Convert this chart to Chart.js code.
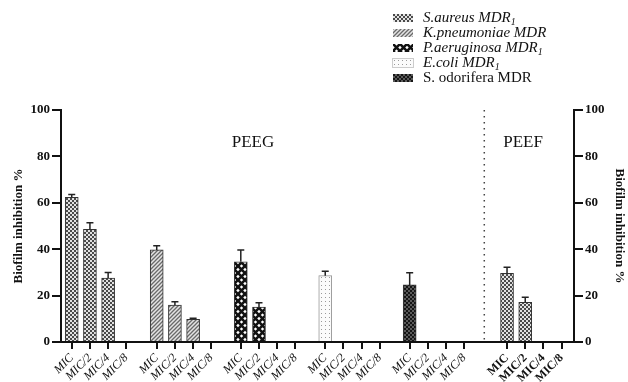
<!DOCTYPE html>
<html>
<head>
<meta charset="utf-8">
<script src="https://cdn.jsdelivr.net/npm/chart.js@4.4.1/dist/chart.umd.min.js"></script>
<style>
  html, body { margin:0; padding:0; background:#fff; }
  #wrap { position:relative; width:628px; height:382px; }
  #legend { position:absolute; left:393px; top:10px; font-family:'Liberation Serif', serif; font-size:15px; color:#111; }
  #legend .row { height:15px; line-height:15px; display:flex; align-items:center; white-space:nowrap; }
  #legend .sw { width:20px; height:8px; margin-right:10px; }
  #legend sub { font-size:10px; vertical-align:-3px; line-height:0; }
</style>
</head>
<body>
<div id="wrap">
  <canvas id="c" width="628" height="382"></canvas>
  <div id="legend"></div>
</div>
<script>
// ---- data ----
const doseLabels = ['MIC', 'MIC/2', 'MIC/4', 'MIC/8'];
const seriesNames = ['S.aureus MDR', 'K.pneumoniae MDR', 'P.aeruginosa MDR', 'E.coli MDR', 'S. odorifera MDR'];
const seriesSub = ['1', '', '1', '1', ''];
const saureusPEEG = [62.4, 48.6, 27.6, 0];
const saureusPEEGErr = [1.2, 2.8, 2.4, 0];
const kpneumoniaePEEG = [39.7, 15.9, 9.8, 0];
const kpneumoniaePEEGErr = [1.8, 1.5, 0.4, 0];
const paeruginosaPEEG = [34.6, 15.0, 0, 0];
const paeruginosaPEEGErr = [5.1, 1.9, 0, 0];
const ecoliPEEG = [28.6, 0, 0, 0];
const ecoliPEEGErr = [1.9, 0, 0, 0];
const sodoriferaPEEG = [24.6, 0, 0, 0];
const sodoriferaPEEGErr = [5.2, 0, 0, 0];
const saureusPEEF = [29.6, 17.1, 0, 0];
const saureusPEEFErr = [2.6, 2.2, 0, 0];
const yTicks = [0, 20, 40, 60, 80, 100];

// ---- layout (group placement along x) ----
const groupStart = [0, 4.67, 9.29, 13.93, 18.57, 23.92]; // 5 PEEG groups + PEEF group
const dividerX = 22.67;
const pos = (g, i) => groupStart[g] + i;
const tickPositions = [];
const tickLabels = [];
groupStart.forEach((s, g) => doseLabels.forEach((l, i) => { tickPositions.push(pos(g, i)); tickLabels.push(l); }));

const cv = document.getElementById('c');
const ctx = cv.getContext('2d');

function makeTile(size, draw) {
  const c = document.createElement('canvas');
  c.width = c.height = size;
  const g = c.getContext('2d');
  draw(g, size);
  return c;
}
function checker(light, dark) {
  return makeTile(4, (g) => { g.fillStyle = light; g.fillRect(0,0,4,4); g.fillStyle = dark; g.fillRect(0,0,2,2); g.fillRect(2,2,2,2); });
}
const tiles = [
  checker('#e2e2e2', '#4a4a4a'),
  makeTile(4, (g) => { g.fillStyle = '#e4e4e4'; g.fillRect(0,0,4,4); g.strokeStyle = '#6a6a6a'; g.lineWidth = 1.3;
     g.beginPath(); g.moveTo(-1,5); g.lineTo(5,-1); g.moveTo(-1,1); g.lineTo(1,-1); g.moveTo(3,5); g.lineTo(5,3); g.stroke(); }),
  makeTile(7, (g) => { g.fillStyle = '#fff'; g.fillRect(0,0,7,7); g.strokeStyle = '#111'; g.lineWidth = 2.6;
     g.beginPath(); g.moveTo(0,0); g.lineTo(7,7); g.moveTo(7,0); g.lineTo(0,7); g.stroke(); }),
  makeTile(4, (g) => { g.fillStyle = '#fbfbfb'; g.fillRect(0,0,4,4); g.fillStyle = '#9a9a9a'; g.fillRect(1,1,1,1); }),
  checker('#5a5a5a', '#151515')
];
const patterns = tiles.map(t => ctx.createPattern(t, 'repeat'));

// legend (HTML)
const leg = document.getElementById('legend');
seriesNames.forEach((n, i) => {
  const row = document.createElement('div'); row.className = 'row';
  const sw = document.createElement('div'); sw.className = 'sw';
  sw.style.backgroundImage = 'url(' + tiles[i].toDataURL() + ')';
  if (i === 3) sw.style.outline = '1px solid #ccc';
  const tx = document.createElement('span');
  tx.style.fontStyle = i === 4 ? 'normal' : 'italic';
  tx.textContent = n;
  if (seriesSub[i]) { const s = document.createElement('sub'); s.textContent = seriesSub[i]; tx.appendChild(s); }
  row.appendChild(sw); row.appendChild(tx); leg.appendChild(row);
});

function pts(g, vals, errs) { return vals.map((v, i) => ({ x: pos(g, i), y: v, err: errs[i] })); }

const serif = "'Liberation Serif', 'Times New Roman', serif";
const common = { borderColor: '#333', borderWidth: 1, barThickness: 13, grouped: false, borderSkipped: 'bottom' };
const datasets = [
  { label: seriesNames[0], data: pts(0, saureusPEEG, saureusPEEGErr).concat(pts(5, saureusPEEF, saureusPEEFErr)), backgroundColor: patterns[0] },
  { label: seriesNames[1], data: pts(1, kpneumoniaePEEG, kpneumoniaePEEGErr), backgroundColor: patterns[1] },
  { label: seriesNames[2], data: pts(2, paeruginosaPEEG, paeruginosaPEEGErr), backgroundColor: patterns[2] },
  { label: seriesNames[3], data: pts(3, ecoliPEEG, ecoliPEEGErr), backgroundColor: patterns[3], borderColor: '#999' },
  { label: seriesNames[4], data: pts(4, sodoriferaPEEG, sodoriferaPEEGErr), backgroundColor: patterns[4] }
].map(d => Object.assign({}, common, d));

const extras = {
  id: 'extras',
  afterDatasetsDraw(chart) {
    const c = chart.ctx, xs = chart.scales.x, ys = chart.scales.y;
    c.save();
    // error bars
    c.strokeStyle = '#222'; c.lineWidth = 1.5;
    chart.data.datasets.forEach((ds, di) => {
      const meta = chart.getDatasetMeta(di);
      ds.data.forEach((p, j) => {
        if (!p.err) return;
        const el = meta.data[j];
        const yTop = ys.getPixelForValue(p.y + p.err);
        c.beginPath();
        c.moveTo(el.x, el.y); c.lineTo(el.x, yTop);
        c.moveTo(el.x - 3.5, yTop); c.lineTo(el.x + 3.5, yTop);
        c.stroke();
      });
    });
    // divider
    const dx = xs.getPixelForValue(dividerX);
    c.setLineDash([1.5, 4.5]); c.lineWidth = 1.5; c.strokeStyle = '#444';
    c.beginPath(); c.moveTo(dx, chart.chartArea.top); c.lineTo(dx, chart.chartArea.bottom); c.stroke();
    c.setLineDash([]);
    // group titles
    c.fillStyle = '#111'; c.font = '17px ' + serif; c.textAlign = 'center'; c.textBaseline = 'middle';
    c.fillText('PEEG', xs.getPixelForValue(9.96), ys.getPixelForValue(85.8));
    c.fillText('PEEF', xs.getPixelForValue(24.8), ys.getPixelForValue(85.8));
    c.restore();
  }
};

const yCommon = {
  type: 'linear', min: 0, max: 100,
  afterBuildTicks: s => { s.ticks = yTicks.map(v => ({ value: v })); },
  ticks: { color: '#111', padding: 2, font: { family: serif, size: 13, weight: 'bold' } },
  grid: { drawOnChartArea: false, drawTicks: true, tickLength: 9, color: '#111', lineWidth: 2 },
  border: { display: true, color: '#111', width: 2 },
  title: { display: true, text: 'Biofilm inhibition %', color: '#111', font: { family: serif, size: 13, weight: 'bold' } }
};

new Chart(ctx, {
  type: 'bar',
  data: { datasets },
  plugins: [extras],
  options: {
    responsive: false, animation: false,
    layout: { padding: { top: 110, left: 0, right: 0, bottom: 0 } },
    plugins: { legend: { display: false }, tooltip: { enabled: false } },
    scales: {
      x: {
        type: 'linear', min: -0.59, max: 27.6, offset: false,
        afterBuildTicks: s => { s.ticks = tickPositions.map(v => ({ value: v })); },
        afterFit: s => { s.height = 40; },
        ticks: {
          autoSkip: false, minRotation: 45, maxRotation: 45, padding: 2, color: '#111',
          callback: (v, i) => tickLabels[i],
          font: (c) => (c.index >= 20 ? { family: serif, size: 12, weight: 'bold' } : { family: serif, size: 12, style: 'italic' })
        },
        grid: { offset: false, drawOnChartArea: false, drawTicks: true, tickLength: 7, color: '#111', lineWidth: 2 },
        border: { display: true, color: '#111', width: 2 }
      },
      y: Object.assign({}, yCommon, { position: 'left', afterFit: s => { s.width = 61; },
        title: Object.assign({}, yCommon.title, { padding: { top: 11, bottom: 0 } }) }),
      y2: Object.assign({}, yCommon, { position: 'right', afterFit: s => { s.width = 54; },
        title: Object.assign({}, yCommon.title, { padding: { top: 1, bottom: 0 } }) })
    }
  }
});
</script>
</body>
</html>
